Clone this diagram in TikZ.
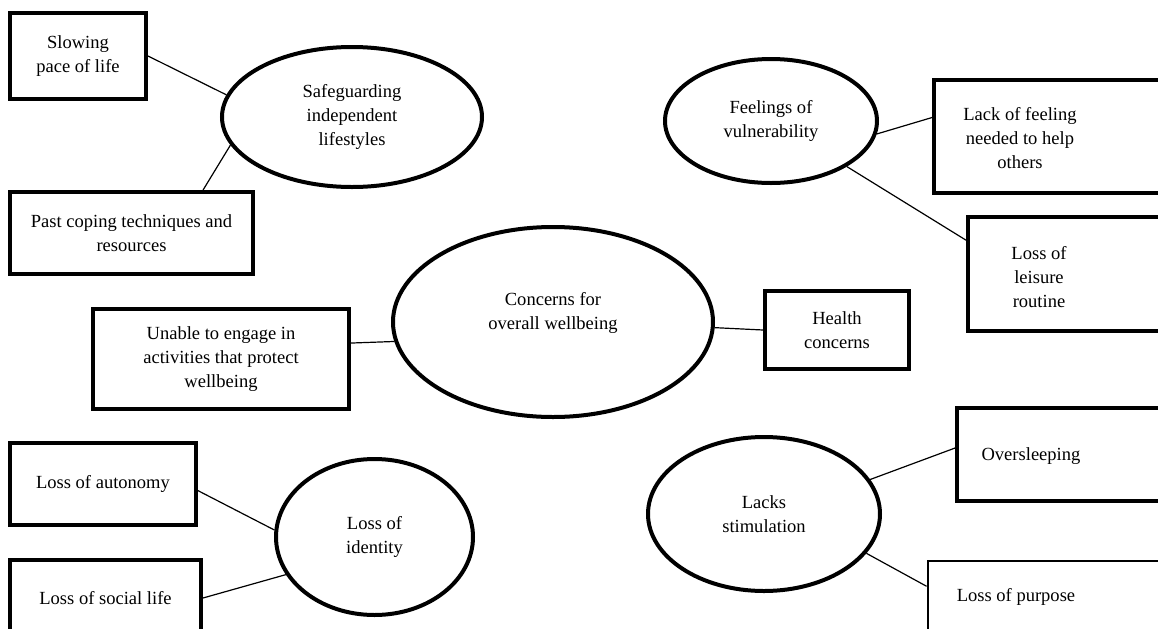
\documentclass[tikz,border=0pt]{standalone}
\usepackage{fontspec}
\setmainfont{Liberation Serif}
\usetikzlibrary{shapes.geometric}
\newcommand{\fs}{\fontsize{13.9}{18}\selectfont}
\begin{document}
\begin{tikzpicture}[x=0.75pt,y=-0.75pt,
  box/.style={draw, rectangle, line width=3pt, inner sep=0pt, font=\fs, align=center},
  ell/.style={draw, ellipse, line width=3pt, inner sep=0pt, font=\fs, align=center},
  txt/.style={font=\fs, align=center, inner sep=0pt},
  link/.style={line width=0.9pt}]
\path[use as bounding box, clip] (0,0) rectangle (1158,629);
\fill[white] (0,0) rectangle (1158,629);

% ellipses
\node[ell, minimum width=260*0.75pt, minimum height=140*0.75pt] (safe) at (352,117) {Safeguarding\\independent\\lifestyles};
\node[ell, minimum width=320*0.75pt, minimum height=190*0.75pt] (conc) at (553,322) {};
\node[txt] (conctxt) at (553,313) {Concerns for\\overall wellbeing};
\node[ell, minimum width=212*0.75pt, minimum height=124*0.75pt] (feel) at (771,121) {Feelings of\\vulnerability};
\node[ell, minimum width=197*0.75pt, minimum height=156*0.75pt] (ident) at (374.5,537) {Loss of\\identity};
\node[ell, minimum width=232*0.75pt, minimum height=154*0.75pt] (lacks) at (764,514) {Lacks\\stimulation};

% boxes
\node[box, minimum width=136*0.75pt, minimum height=86*0.75pt] (slow) at (78,56) {Slowing\\pace of life};
\node[box, minimum width=243*0.75pt, minimum height=82*0.75pt] (past) at (131.5,233) {Past coping techniques and\\resources};
\node[box, minimum width=256*0.75pt, minimum height=100*0.75pt] (unable) at (221,359) {Unable to engage in\\activities that protect\\wellbeing};
\node[box, minimum width=144*0.75pt, minimum height=78*0.75pt] (health) at (837,330) {Health\\concerns};
\node[box, minimum width=186*0.75pt, minimum height=82*0.75pt] (auto) at (103,484) {Loss of autonomy};
\node[box, minimum width=191*0.75pt, minimum height=76*0.75pt] (social) at (105.5,598) {Loss of social life};

\node[box, minimum width=266*0.75pt, minimum height=113*0.75pt] (lack) at (1067,136.5) {};
\node[txt] (lacktxt) at (1020,138) {Lack of feeling\\needed to help\\others};
\node[box, minimum width=232*0.75pt, minimum height=114*0.75pt] (leisure) at (1084,274) {};
\node[txt] (leisuretxt) at (1039,277) {Loss of\\leisure\\routine};
\node[box, minimum width=243*0.75pt, minimum height=93*0.75pt] (overs) at (1078.5,454.5) {};
\node[txt] (overstxt) at (1031,456) {Oversleeping};
\node[box, line width=2.2pt, minimum width=272*0.75pt, minimum height=99*0.75pt] (purpose) at (1064,610.5) {};
\node[txt] (purposetxt) at (1016,597) {Loss of purpose};

% connectors
\draw[link] (slow.east) -- (safe.170);
\draw[link] (past.31) -- (safe.193);
\draw[link] (unable.7) -- (conc.187);
\draw[link] (conc.-2) -- (health.west);
\draw[link] (feel.-7) -- (lack.172.5);
\draw[link] (feel.-31) -- (leisure.164.7);
\draw[link] (auto.-4) -- (ident.176);
\draw[link] (social.east) -- (ident.203);
\draw[link] (lacks.18) -- (overs.177.4);
\draw[link] (lacks.-21) -- (purpose.170);
\end{tikzpicture}
\end{document}
